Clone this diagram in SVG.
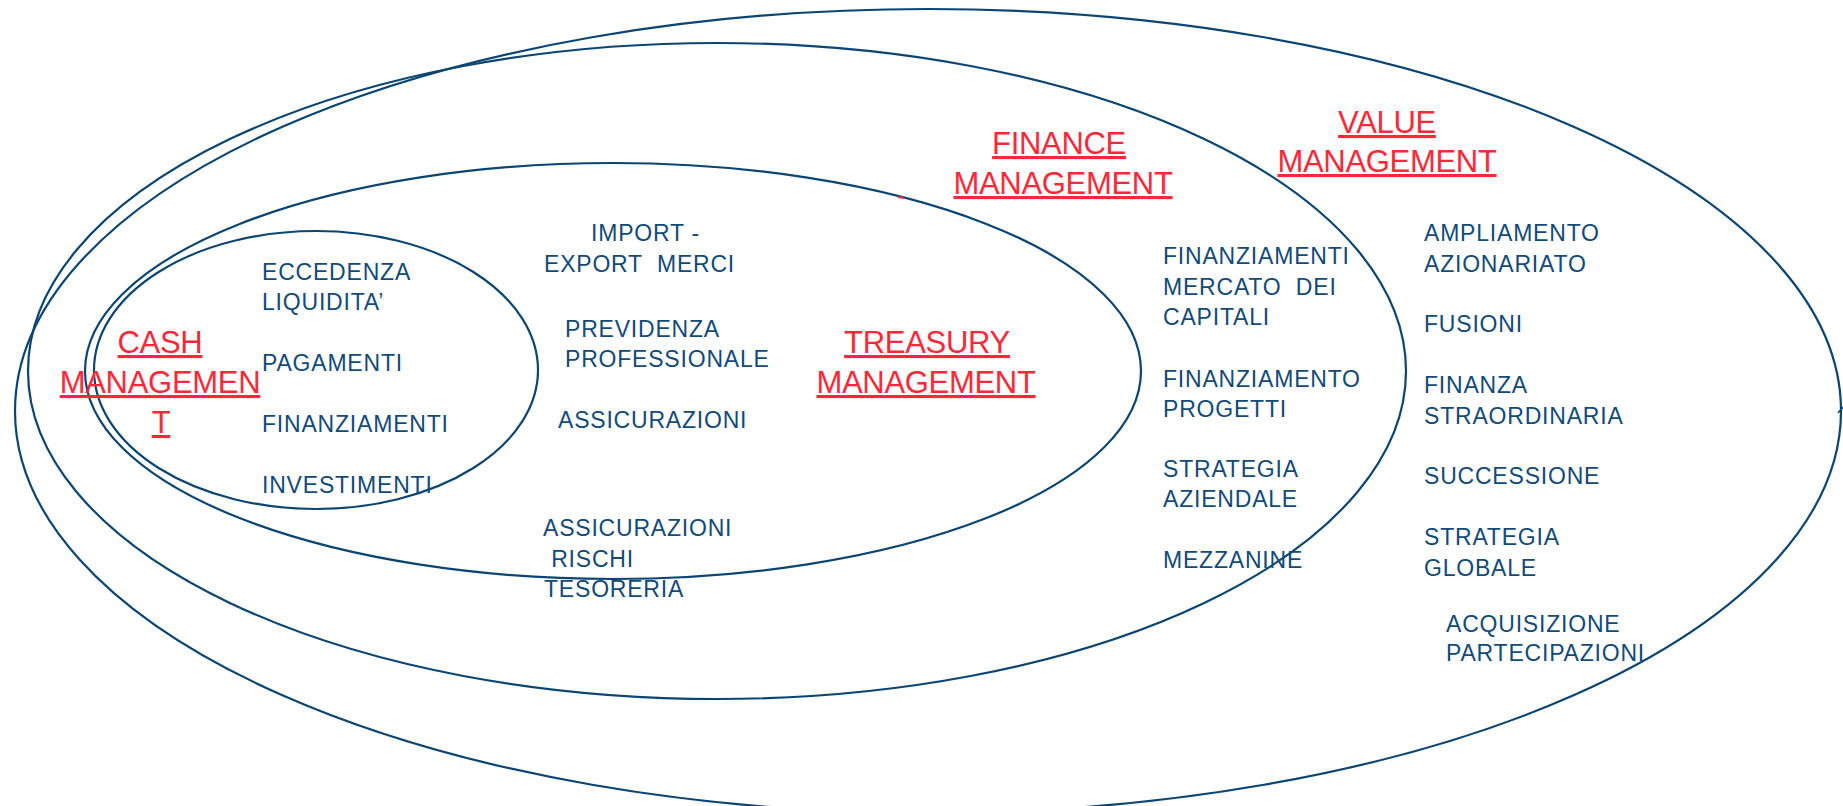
<svg xmlns="http://www.w3.org/2000/svg" width="1843" height="806" viewBox="0 0 1843 806">
<style>
.ring{fill:none;stroke:#0B4573;stroke-width:2.2}
.t{font-family:"Liberation Sans",Arial,sans-serif;font-size:23px;fill:#124A7A;letter-spacing:0.8px;white-space:pre}
.h{font-family:"Liberation Sans",Arial,sans-serif;font-size:31px;fill:#FF2838;letter-spacing:-0.3px;text-anchor:middle;text-decoration:underline}
</style>
<rect width="1843" height="806" fill="#FFFFFF"/>
<g id="value-management">
<ellipse class="ring" cx="928" cy="411" rx="913" ry="402"/>
<text class="h" x="1387" y="133">VALUE</text>
<text class="h" x="1387" y="172">MANAGEMENT</text>
<text class="t" x="1424" y="241">AMPLIAMENTO</text>
<text class="t" x="1424" y="272">AZIONARIATO</text>
<text class="t" x="1424" y="332">FUSIONI</text>
<text class="t" x="1424" y="393">FINANZA</text>
<text class="t" x="1424" y="424">STRAORDINARIA</text>
<text class="t" x="1424" y="484">SUCCESSIONE</text>
<text class="t" x="1424" y="545">STRATEGIA</text>
<text class="t" x="1424" y="576">GLOBALE</text>
<text class="t" x="1446" y="632">ACQUISIZIONE</text>
<text class="t" x="1446" y="661">PARTECIPAZIONI</text>
<line x1="1838" y1="413" x2="1843" y2="407" stroke="#0B4573" stroke-width="1.5"/>
</g>
<g id="finance-management">
<ellipse class="ring" cx="717" cy="371" rx="689" ry="328"/>
<text class="h" x="1059" y="154">FINANCE</text>
<text class="h" x="1063" y="194">MANAGEMENT</text>
<text class="t" x="1163" y="264">FINANZIAMENTI</text>
<text class="t" x="1163" y="295">MERCATO  DEI</text>
<text class="t" x="1163" y="325">CAPITALI</text>
<text class="t" x="1163" y="387">FINANZIAMENTO</text>
<text class="t" x="1163" y="417">PROGETTI</text>
<text class="t" x="1163" y="477">STRATEGIA</text>
<text class="t" x="1163" y="507">AZIENDALE</text>
<text class="t" x="1163" y="568">MEZZANINE</text>
</g>
<g id="treasury-management">
<ellipse class="ring" cx="613" cy="371" rx="528" ry="208"/>
<line x1="898" y1="197" x2="904" y2="198" stroke="#FF2838" stroke-width="2"/>
<text class="h" x="927" y="353">TREASURY</text>
<text class="h" x="926" y="393">MANAGEMENT</text>
<text class="t" x="591" y="241">IMPORT -</text>
<text class="t" x="544" y="272">EXPORT  MERCI</text>
<text class="t" x="565" y="337">PREVIDENZA</text>
<text class="t" x="565" y="367">PROFESSIONALE</text>
<text class="t" x="558" y="428">ASSICURAZIONI</text>
<text class="t" x="543" y="536">ASSICURAZIONI</text>
<text class="t" x="544" y="567"> RISCHI</text>
<text class="t" x="544" y="597">TESORERIA</text>
</g>
<g id="cash-management">
<ellipse class="ring" cx="316" cy="370" rx="222" ry="139"/>
<text class="h" x="160" y="353">CASH</text>
<text class="h" x="160" y="393">MANAGEMEN</text>
<text class="h" x="161" y="433">T</text>
<text class="t" x="262" y="280">ECCEDENZA</text>
<text class="t" x="262" y="310">LIQUIDITA’</text>
<text class="t" x="262" y="371">PAGAMENTI</text>
<text class="t" x="262" y="432">FINANZIAMENTI</text>
<text class="t" x="262" y="493">INVESTIMENTI</text>
</g>
<g id="connectors"></g>
</svg>
